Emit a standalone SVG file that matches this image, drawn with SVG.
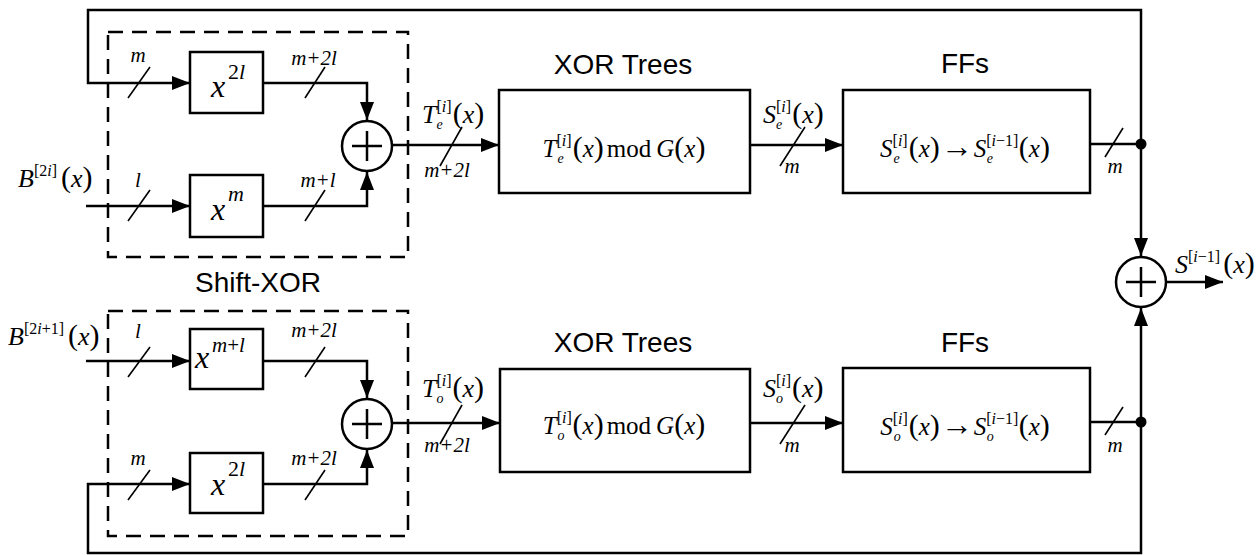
<svg xmlns="http://www.w3.org/2000/svg" width="1257" height="555" viewBox="0 0 1257 555">
<style>
.w{fill:none;stroke:#000;stroke-width:2.5}
.a{marker-end:url(#ah)}
.box{fill:#fff;stroke:#000;stroke-width:2.5}
.dash{fill:none;stroke:#000;stroke-width:2.5;stroke-dasharray:15 9}
.sl{stroke:#000;stroke-width:1.6}
.lbl{font-family:"Liberation Sans",Arial,sans-serif;font-size:28px;text-anchor:middle}
.mi{font-family:"Liberation Serif","Times New Roman",serif;font-style:italic;fill:#000}
.rm{font-style:normal}
.bw{font-size:21px;text-anchor:middle}
.lab{font-size:26px}
.bt{font-size:25px;text-anchor:middle}
.sp{font-size:16px}
.sb{font-size:14px}
.p{font-size:30px;font-style:normal}
.ar{font-size:32px;font-style:normal}
</style>
<defs>
<marker id="ah" markerUnits="userSpaceOnUse" markerWidth="18" markerHeight="14" refX="18" refY="7" orient="auto"><path d="M0,0 L18,7 L0,14 z" fill="#000"/></marker>
</defs>

<g id="connectors">
<!-- top (even) path -->
<path class="w a" d="M1141,144 V10 H88 V83 H190"/>
<path class="w a" d="M86,206 H190"/>
<path class="w a" d="M263,83 H367 V120"/>
<path class="w a" d="M263,206 H367 V172"/>
<path class="w a" d="M393,145 H499"/>
<path class="w a" d="M750,145 H843"/>
<path class="w" d="M1090,144 H1141"/>
<path class="w a" d="M1141,144 V256"/>
<circle cx="1141" cy="144" r="5.5" fill="#000"/>
<!-- bottom (odd) path -->
<path class="w a" d="M1141,422 V553 H88 V484 H190"/>
<path class="w a" d="M86,361 H190"/>
<path class="w a" d="M263,361 H367 V398"/>
<path class="w a" d="M263,484 H367 V450"/>
<path class="w a" d="M393,423 H500"/>
<path class="w a" d="M750,423 H843"/>
<path class="w" d="M1090,422 H1141"/>
<path class="w a" d="M1141,422 V308"/>
<circle cx="1141" cy="422" r="5.5" fill="#000"/>
<!-- output -->
<path class="w a" d="M1167,282 H1223"/>
<!-- bus slashes -->
<line class="sl" x1="128" y1="98" x2="150" y2="67"/>
<line class="sl" x1="305" y1="98" x2="325" y2="67"/>
<line class="sl" x1="128" y1="221" x2="150" y2="190"/>
<line class="sl" x1="305" y1="221" x2="325" y2="190"/>
<line class="sl" x1="440" y1="166" x2="462" y2="127"/>
<line class="sl" x1="780" y1="166" x2="805" y2="127"/>
<line class="sl" x1="1105" y1="157" x2="1123" y2="128"/>
<line class="sl" x1="128" y1="377" x2="150" y2="347"/>
<line class="sl" x1="305" y1="377" x2="325" y2="347"/>
<line class="sl" x1="128" y1="500" x2="150" y2="470"/>
<line class="sl" x1="305" y1="500" x2="325" y2="470"/>
<line class="sl" x1="440" y1="444" x2="462" y2="405"/>
<line class="sl" x1="780" y1="444" x2="805" y2="405"/>
<line class="sl" x1="1105" y1="435" x2="1123" y2="407"/>
<!-- bus width labels -->
<text class="mi bw" x="138" y="62">m</text>
<text class="mi bw" x="314" y="65">m+2l</text>
<text class="mi bw" x="138" y="187">l</text>
<text class="mi bw" x="318" y="187">m+l</text>
<text class="mi bw" x="447" y="177">m+2l</text>
<text class="mi bw" x="792" y="173">m</text>
<text class="mi bw" x="1115" y="173">m</text>
<text class="mi bw" x="138" y="338">l</text>
<text class="mi bw" x="314" y="337">m+2l</text>
<text class="mi bw" x="138" y="465">m</text>
<text class="mi bw" x="314" y="465">m+2l</text>
<text class="mi bw" x="447" y="452">m+2l</text>
<text class="mi bw" x="792" y="452">m</text>
<text class="mi bw" x="1115" y="452">m</text>
<!-- signal labels -->
<text class="mi lab" x="18" y="187">B<tspan class="sp" dy="-11"><tspan class="rm">[2</tspan>i<tspan class="rm">]</tspan></tspan><tspan dx="4" dy="11"><tspan class="p">(</tspan>x<tspan class="p">)</tspan></tspan></text>
<text class="mi lab" x="8" y="345">B<tspan class="sp" dy="-11"><tspan class="rm">[2</tspan>i<tspan class="rm">+1]</tspan></tspan><tspan dx="4" dy="11"><tspan class="p">(</tspan>x<tspan class="p">)</tspan></tspan></text>
<text class="mi lab" x="422" y="123">T<tspan class="sp" dy="-11"><tspan class="rm">[</tspan>i<tspan class="rm">]</tspan></tspan><tspan class="sb" dx="-15.1" dy="17">e</tspan><tspan dx="10" dy="-6"><tspan class="p">(</tspan>x<tspan class="p">)</tspan></tspan></text>
<text class="mi lab" x="763" y="123">S<tspan class="sp" dy="-11"><tspan class="rm">[</tspan>i<tspan class="rm">]</tspan></tspan><tspan class="sb" dx="-15.1" dy="17">e</tspan><tspan dx="10" dy="-6"><tspan class="p">(</tspan>x<tspan class="p">)</tspan></tspan></text>
<text class="mi lab" x="422" y="397">T<tspan class="sp" dy="-11"><tspan class="rm">[</tspan>i<tspan class="rm">]</tspan></tspan><tspan class="sb" dx="-15.1" dy="17">o</tspan><tspan dx="9" dy="-6"><tspan class="p">(</tspan>x<tspan class="p">)</tspan></tspan></text>
<text class="mi lab" x="763" y="397">S<tspan class="sp" dy="-11"><tspan class="rm">[</tspan>i<tspan class="rm">]</tspan></tspan><tspan class="sb" dx="-15.1" dy="17">o</tspan><tspan dx="9" dy="-6"><tspan class="p">(</tspan>x<tspan class="p">)</tspan></tspan></text>
<text class="mi lab" x="1175" y="273">S<tspan class="sp" dy="-11"><tspan class="rm">[</tspan>i<tspan class="rm">−1]</tspan></tspan><tspan dx="3" dy="11"><tspan class="p">(</tspan>x<tspan class="p">)</tspan></tspan></text>
</g>

<g id="shiftxor-even">
<rect class="dash" x="108" y="32" width="300" height="225"/>
</g>
<g id="shift-x2l-even">
<rect class="box" x="190" y="52" width="73" height="61"/>
<text class="mi" x="211" y="97" font-size="32">x</text><text class="mi" x="228" y="79" font-size="22"><tspan class="rm">2</tspan>l</text>
</g>
<g id="shift-xm-even">
<rect class="box" x="190" y="175" width="73" height="62"/>
<text class="mi" x="211" y="220" font-size="32">x</text><text class="mi" x="228" y="201" font-size="22">m</text>
</g>
<g id="xor-even">
<circle cx="367" cy="146" r="25" fill="#fff" stroke="#000" stroke-width="2.5"/>
<path class="w" d="M352,146 H382 M367,131 V161"/>
</g>
<g id="xortree-even">
<text class="lbl" x="623" y="74">XOR Trees</text>
<rect class="box" x="499" y="90" width="251" height="103"/>
<text class="mi bt" x="624" y="157">T<tspan class="sp" font-size="15" dy="-11"><tspan class="rm">[</tspan>i<tspan class="rm">]</tspan></tspan><tspan class="sb" dx="-14.2" dy="17">e</tspan><tspan dx="9" dy="-6"><tspan class="p" font-size="29">(</tspan>x<tspan class="p" font-size="29">)</tspan><tspan class="rm" dx="3">mod</tspan><tspan dx="5">G</tspan><tspan class="p" font-size="29">(</tspan>x<tspan class="p" font-size="29">)</tspan></tspan></text>
</g>
<g id="ffs-even">
<text class="lbl" x="965" y="73">FFs</text>
<rect class="box" x="843" y="90" width="247" height="103"/>
<text class="mi bt" x="965" y="157">S<tspan class="sp" font-size="15" dy="-11"><tspan class="rm">[</tspan>i<tspan class="rm">]</tspan></tspan><tspan class="sb" dx="-14.2" dy="17">e</tspan><tspan dx="9" dy="-6"><tspan class="p" font-size="29">(</tspan>x<tspan class="p" font-size="29">)</tspan><tspan class="ar" dx="1">→</tspan><tspan dx="1">S</tspan><tspan class="sp" font-size="15" dy="-11"><tspan class="rm">[</tspan>i<tspan class="rm">−1]</tspan></tspan><tspan class="sb" dx="-31.8" dy="17">e</tspan><tspan dx="26" dy="-6"><tspan class="p" font-size="29">(</tspan>x<tspan class="p" font-size="29">)</tspan></tspan></tspan></text>
</g>

<g id="shiftxor-odd">
<text class="lbl" x="258" y="292">Shift-XOR</text>
<rect class="dash" x="108" y="311" width="300" height="225"/>
</g>
<g id="shift-xml-odd">
<rect class="box" x="190" y="329" width="73" height="60"/>
<text class="mi" x="195" y="368" font-size="32">x</text><text class="mi" x="212" y="352" font-size="21">m<tspan class="rm">+</tspan>l</text>
</g>
<g id="shift-x2l-odd">
<rect class="box" x="190" y="453" width="73" height="60"/>
<text class="mi" x="211" y="495" font-size="32">x</text><text class="mi" x="228" y="476" font-size="22"><tspan class="rm">2</tspan>l</text>
</g>
<g id="xor-odd">
<circle cx="367" cy="424" r="25" fill="#fff" stroke="#000" stroke-width="2.5"/>
<path class="w" d="M352,424 H382 M367,409 V439"/>
</g>
<g id="xortree-odd">
<text class="lbl" x="623" y="352">XOR Trees</text>
<rect class="box" x="500" y="369" width="250" height="103"/>
<text class="mi bt" x="624" y="434">T<tspan class="sp" font-size="15" dy="-11"><tspan class="rm">[</tspan>i<tspan class="rm">]</tspan></tspan><tspan class="sb" dx="-14.2" dy="17">o</tspan><tspan dx="8" dy="-6"><tspan class="p" font-size="29">(</tspan>x<tspan class="p" font-size="29">)</tspan><tspan class="rm" dx="3">mod</tspan><tspan dx="5">G</tspan><tspan class="p" font-size="29">(</tspan>x<tspan class="p" font-size="29">)</tspan></tspan></text>
</g>
<g id="ffs-odd">
<text class="lbl" x="965" y="352">FFs</text>
<rect class="box" x="843" y="368" width="247" height="104"/>
<text class="mi bt" x="965" y="435">S<tspan class="sp" font-size="15" dy="-11"><tspan class="rm">[</tspan>i<tspan class="rm">]</tspan></tspan><tspan class="sb" dx="-14.2" dy="17">o</tspan><tspan dx="8" dy="-6"><tspan class="p" font-size="29">(</tspan>x<tspan class="p" font-size="29">)</tspan><tspan class="ar" dx="1">→</tspan><tspan dx="1">S</tspan><tspan class="sp" font-size="15" dy="-11"><tspan class="rm">[</tspan>i<tspan class="rm">−1]</tspan></tspan><tspan class="sb" dx="-31.8" dy="17">o</tspan><tspan dx="25" dy="-6"><tspan class="p" font-size="29">(</tspan>x<tspan class="p" font-size="29">)</tspan></tspan></tspan></text>
</g>

<g id="xor-out">
<circle cx="1141" cy="282" r="25" fill="#fff" stroke="#000" stroke-width="2.5"/>
<path class="w" d="M1126,282 H1156 M1141,267 V297"/>
</g>
</svg>
